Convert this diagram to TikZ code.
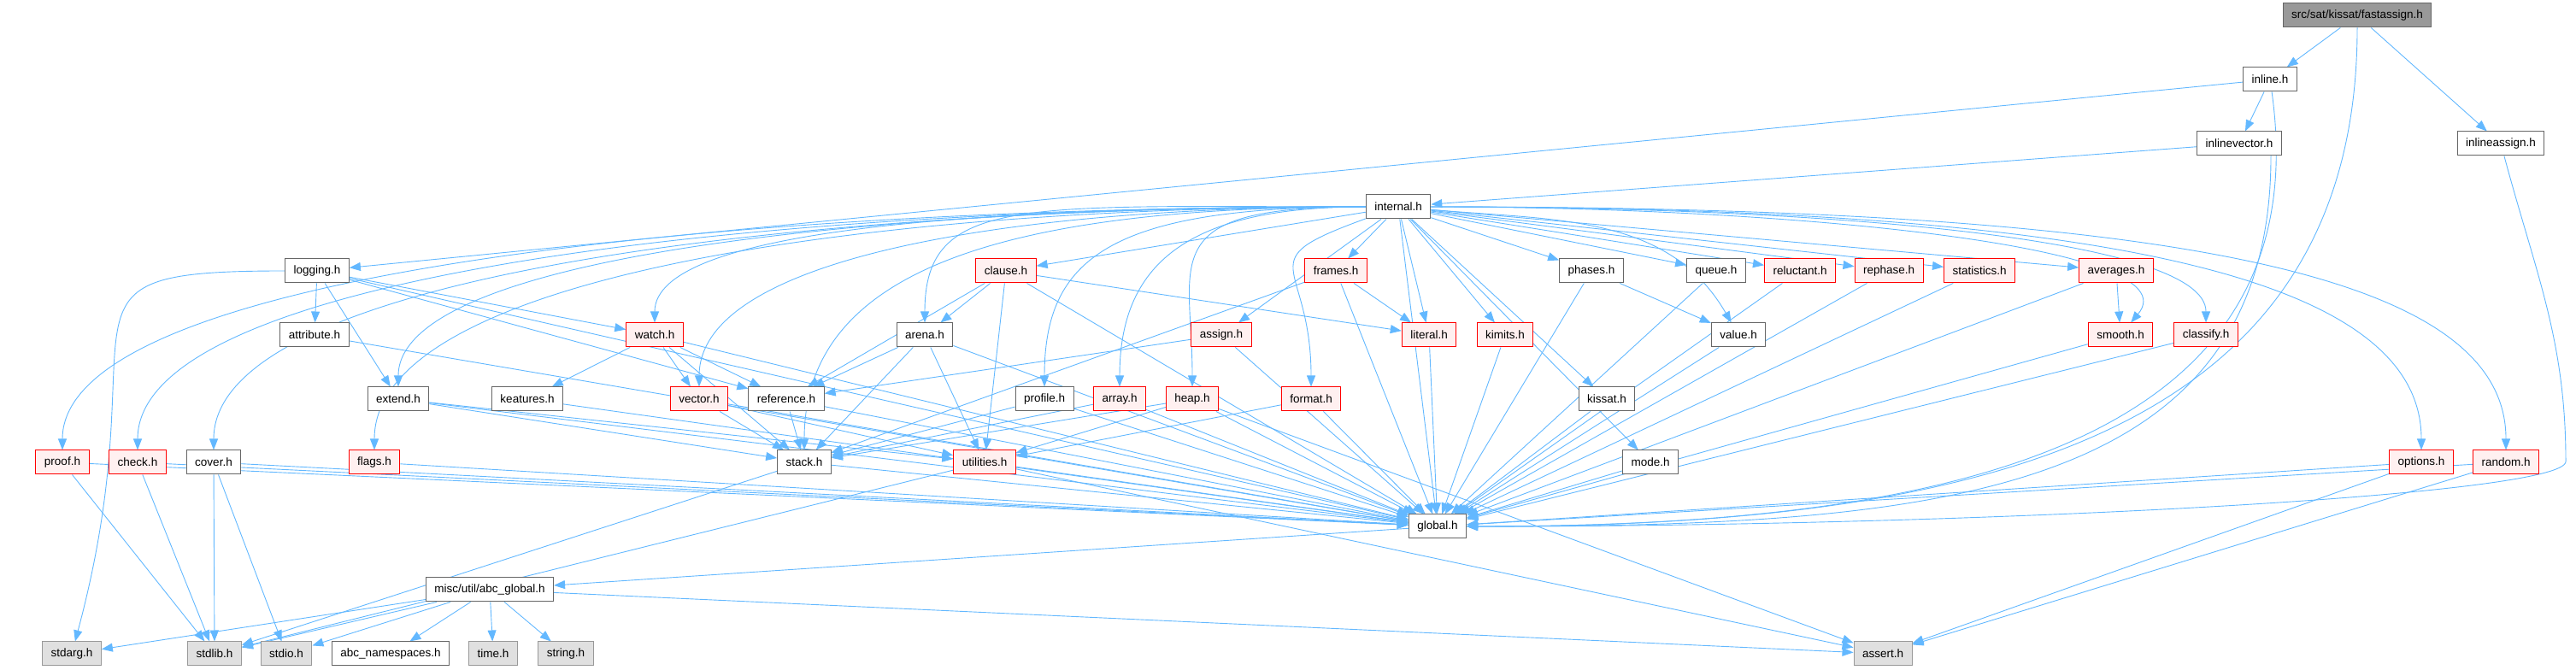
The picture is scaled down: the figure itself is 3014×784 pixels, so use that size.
\documentclass[tikz,border=0pt]{standalone}
\usepackage{fontspec}
\setmainfont{Liberation Sans}
\usetikzlibrary{arrows.meta,backgrounds}
\definecolor{edgeblue}{RGB}{99,184,255}
\definecolor{redfill}{RGB}{255,240,240}
\definecolor{sysfill}{RGB}{224,224,224}
\definecolor{rootfill}{RGB}{153,153,153}
\definecolor{boxgray}{RGB}{102,102,102}

\begin{document}
\begin{tikzpicture}[x=0.1pt, y=-0.1pt, >={Triangle[length=1.3pt,width=1pt]},
    hdr/.style={draw=boxgray, fill=white, line width=0.1pt, minimum height=2.8pt,
      inner xsep=1pt, inner ysep=0pt, font=\fontsize{1.35}{1.6}\selectfont},
    redhdr/.style={hdr, draw=red, fill=redfill},
    syshdr/.style={hdr, draw=rootfill, fill=sysfill},
    roothdr/.style={hdr, fill=rootfill},
    inc/.style={->, draw=edgeblue, line width=0.09pt}]
  \useasboundingbox (0,0) rectangle (3014,784);

  \node[roothdr] (fastassign) at (2758,18) {src/sat/kissat/fastassign.h};
  \node[hdr] (inline) at (2656,93) {inline.h};
  \node[hdr] (inlinevector) at (2620,168) {inlinevector.h};
  \node[hdr] (inlineassign) at (2926,168) {inlineassign.h};
  \node[hdr] (internal) at (1636,242) {internal.h};

  \node[hdr] (logging) at (371,317) {logging.h};
  \node[redhdr] (clause) at (1177,317) {clause.h};
  \node[redhdr] (frames) at (1563,317) {frames.h};
  \node[hdr] (phases) at (1862,317) {phases.h};
  \node[hdr] (queue) at (2008,317) {queue.h};
  \node[redhdr] (reluctant) at (2106,317) {reluctant.h};
  \node[redhdr] (rephase) at (2210,317) {rephase.h};
  \node[redhdr] (statistics) at (2316,317) {statistics.h};
  \node[redhdr] (averages) at (2476,317) {averages.h};

  \node[hdr] (attribute) at (368,392) {attribute.h};
  \node[redhdr] (watch) at (766,392) {watch.h};
  \node[hdr] (arena) at (1082,392) {arena.h};
  \node[redhdr] (assign) at (1429,392) {assign.h};
  \node[redhdr] (literal) at (1672,392) {literal.h};
  \node[redhdr] (kimits) at (1761,392) {kimits.h};
  \node[hdr] (value) at (2034,392) {value.h};
  \node[redhdr] (smooth) at (2481,392) {smooth.h};
  \node[redhdr] (classify) at (2581,392) {classify.h};

  \node[hdr] (extend) at (466,467) {extend.h};
  \node[hdr] (keatures) at (617,467) {keatures.h};
  \node[redhdr] (vector) at (818,467) {vector.h};
  \node[hdr] (reference) at (920,467) {reference.h};
  \node[hdr] (profile) at (1222,467) {profile.h};
  \node[redhdr] (array) at (1310,467) {array.h};
  \node[redhdr] (heap) at (1395,467) {heap.h};
  \node[redhdr] (format) at (1534,467) {format.h};
  \node[hdr] (kissat) at (1880,467) {kissat.h};

  \node[redhdr] (proof) at (73,541) {proof.h};
  \node[redhdr] (check) at (161,541) {check.h};
  \node[hdr] (cover) at (250,541) {cover.h};
  \node[redhdr] (flags) at (438,541) {flags.h};
  \node[hdr] (stack) at (941,541) {stack.h};
  \node[redhdr] (utilities) at (1152,541) {utilities.h};
  \node[hdr] (mode) at (1931,541) {mode.h};
  \node[redhdr] (options) at (2833,541) {options.h};
  \node[redhdr] (random) at (2932,541) {random.h};

  \node[hdr] (global) at (1682,616) {global.h};
  \node[hdr] (abcglobal) at (573,690) {misc/util/abc\_global.h};

  \node[syshdr] (stdarg) at (84,765) {stdarg.h};
  \node[syshdr] (stdlib) at (251,765) {stdlib.h};
  \node[syshdr] (stdio) at (335,765) {stdio.h};
  \node[hdr] (abcnamespaces) at (457,765) {abc\_namespaces.h};
  \node[syshdr] (time) at (577,765) {time.h};
  \node[syshdr] (string) at (662,765) {string.h};
  \node[syshdr] (assert) at (2203,765) {assert.h};

  \coordinate (iaturn) at (3002,540);

  \begin{scope}[on background layer]
    \draw[inc] (fastassign) -- (inline);
    \draw[inc] (fastassign) -- (inlineassign);
    \draw[inc] (inline) -- (logging);
    \draw[inc] (inline) -- (inlinevector);
    \draw[inc] (inlinevector) -- (internal);
    \draw[inc] (fastassign) to[out=-90, in=0, out distance=48pt, in distance=60pt] (global);
    \draw[inc] (inline) to[out=-82, in=0, out distance=42pt, in distance=56pt] (global);
    \draw[inc] ([xshift=3.7pt]inlinevector.south) to[out=-90, in=0, out distance=40pt, in distance=55pt] (global);
    \draw[inc] (inlineassign) to[out=-75, in=90] (iaturn)
      to[out=-90, in=0, out distance=4pt, in distance=60pt] (global);

    \foreach \t in {clause, assign, frames, literal, kimits, kissat, mode, phases,
        queue, reluctant, rephase, statistics, averages, global}
      \draw[inc] (internal) -- (\t);
    \foreach \t/\od/\id in {watch/450/110, extend/600/150, vector/420/150,
        proof/800/200, check/750/200, cover/700/200, flags/600/200, stack/450/200,
        arena/400/150, profile/300/150, array/200/150, heap/250/150}
      \draw[inc] (internal) to[out=180, in=90, out distance=0.1*\od pt, in distance=0.1*\id pt] (\t);
    \foreach \t/\od/\id/\a in {smooth/400/120/50, classify/450/100/90,
        options/800/200/90, random/900/200/90}
      \draw[inc] (internal) to[out=0, in=\a, out distance=0.1*\od pt, in distance=0.1*\id pt] (\t);
    \draw[inc] (internal) to[out=-5, in=120] (value);
    \draw[inc] (internal) to[out=200, in=90, out distance=15pt, in distance=15pt] (format);

    \foreach \t in {attribute, extend, watch, reference}
      \draw[inc] (logging) -- (\t);
    \draw[inc] (logging) to[out=180, in=75, out distance=30pt, in distance=40pt] (stdarg);
    \foreach \t in {keatures, vector, reference, stack}
      \draw[inc] (watch) -- (\t);
    \foreach \t in {arena, reference, utilities, literal}
      \draw[inc] (clause) -- (\t);
    \foreach \t in {reference, stack, utilities}
      \draw[inc] (arena) -- (\t);
    \draw[inc] (assign) -- (reference);
    \foreach \t in {literal, stack}
      \draw[inc] (frames) -- (\t);
    \draw[inc] (phases) -- (value);
    \draw[inc] (averages) -- (smooth);
    \foreach \s in {extend, vector, reference, profile, array, heap}
      \draw[inc] (\s) -- (stack);
    \foreach \s in {extend, vector, heap, format}
      \draw[inc] (\s) -- (utilities);

    \foreach \s in {logging, attribute, watch, keatures, extend, vector, reference,
        clause, arena, assign, frames, literal, kimits, profile, array, heap, format,
        proof, check, cover, flags, stack, utilities, kissat, mode, phases, queue,
        reluctant, rephase, statistics, averages, value, smooth, classify, options, random}
      \draw[inc] (\s) -- (global);

    \foreach \s in {proof, check, cover, stack, utilities, abcglobal}
      \draw[inc] (\s) -- (stdlib);
    \draw[inc] (cover) -- (stdio);
    \foreach \s in {heap, utilities, options, random, abcglobal}
      \draw[inc] (\s) -- (assert);
    \draw[inc] (global) -- (abcglobal);
    \foreach \t in {stdarg, stdio, abcnamespaces, time, string}
      \draw[inc] (abcglobal) -- (\t);
  \end{scope}
\end{tikzpicture}
\end{document}
